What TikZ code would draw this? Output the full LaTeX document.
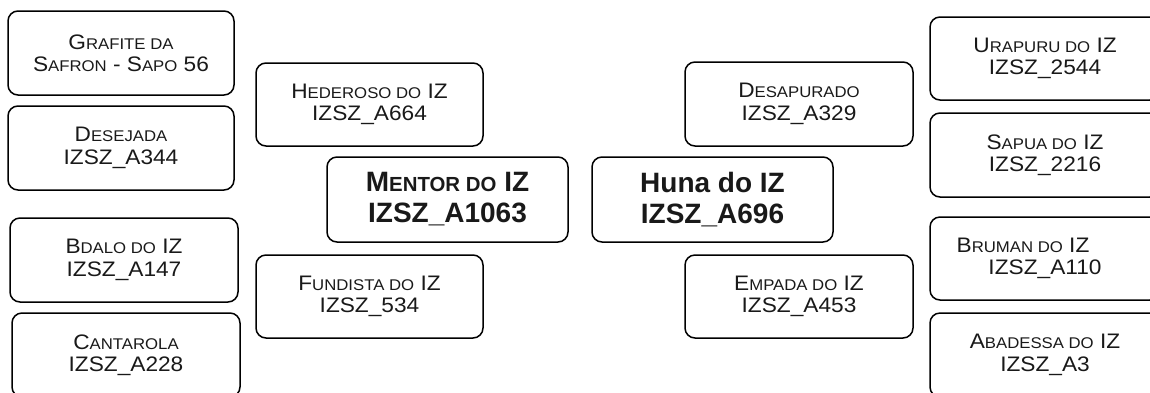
\documentclass[tikz,border=0pt]{standalone}
\usepackage{fontspec}
\setmainfont{Liberation Sans}[FakeStretch=1.08]
\newfontfamily\boldf{Liberation Sans}
\newcommand\rs[1]{{\fontsize{15.5}{22.4}\selectfont #1}}
\newcommand\bsc[1]{{\fontsize{20.4}{31}\selectfont #1}}
\tikzset{
  box/.style={draw=black, line width=1.5pt, rounded corners=10pt, align=center,
    inner sep=0pt, text=black!90, font=\fontsize{21}{22.4}\selectfont},
  cbox/.style={box, font=\boldf\bfseries\fontsize{28}{31}\selectfont}
}
\begin{document}
\begin{tikzpicture}[x=1pt,y=-1pt]
\useasboundingbox (0,0) rectangle (1150,392);
\clip (0,0) rectangle (1150,392);
\node[box, minimum width=226pt, minimum height=84pt] (grafite) at (121,53) {G\rs{RAFITE DA}\\S\rs{AFRON} - S\rs{APO} 56};
\node[box, minimum width=226pt, minimum height=84pt] (desejada) at (121,148) {D\rs{ESEJADA}\\IZSZ\_A344};
\node[box, minimum width=228pt, minimum height=84pt] (bdalo) at (124,260) {B\rs{DALO DO} IZ\\IZSZ\_A147};
\node[box, minimum width=228pt, minimum height=84pt] (cantarola) at (126,355) {C\rs{ANTAROLA}\\IZSZ\_A228};
\node[box, minimum width=227pt, minimum height=83pt] (hederoso) at (369.5,104.5) {H\rs{EDEROSO DO} IZ\\IZSZ\_A664};
\node[box, minimum width=227pt, minimum height=83pt] (fundista) at (369.5,296.5) {F\rs{UNDISTA DO} IZ\\IZSZ\_534};
\node[cbox, minimum width=241pt, minimum height=85pt] (mentor) at (447.5,199.5) {M\bsc{ENTOR DO} IZ\\IZSZ\_A1063};
\node[cbox, minimum width=241pt, minimum height=85pt] (huna) at (712.5,199.5) {Huna do IZ\\IZSZ\_A696};
\node[box, minimum width=228pt, minimum height=84pt] (desapurado) at (799,104) {D\rs{ESAPURADO}\\IZSZ\_A329};
\node[box, minimum width=228pt, minimum height=83pt] (empada) at (799,296.5) {E\rs{MPADA DO} IZ\\IZSZ\_A453};
\node[box, minimum width=230pt, minimum height=83pt] (urapuru) at (1045,58.5) {U\rs{RAPURU DO} IZ\\IZSZ\_2544};
\node[box, minimum width=230pt, minimum height=84pt] (sapua) at (1045,155) {S\rs{APUA DO} IZ\\IZSZ\_2216};
\node[box, minimum width=230pt, minimum height=83pt] (bruman) at (1045,258.5) {B\rs{RUMAN DO} IZ\hspace*{44pt}\\IZSZ\_A110};
\node[box, minimum width=230pt, minimum height=84pt] (abadessa) at (1045,355) {A\rs{BADESSA DO} IZ\\IZSZ\_A3};
\end{tikzpicture}
\end{document}
